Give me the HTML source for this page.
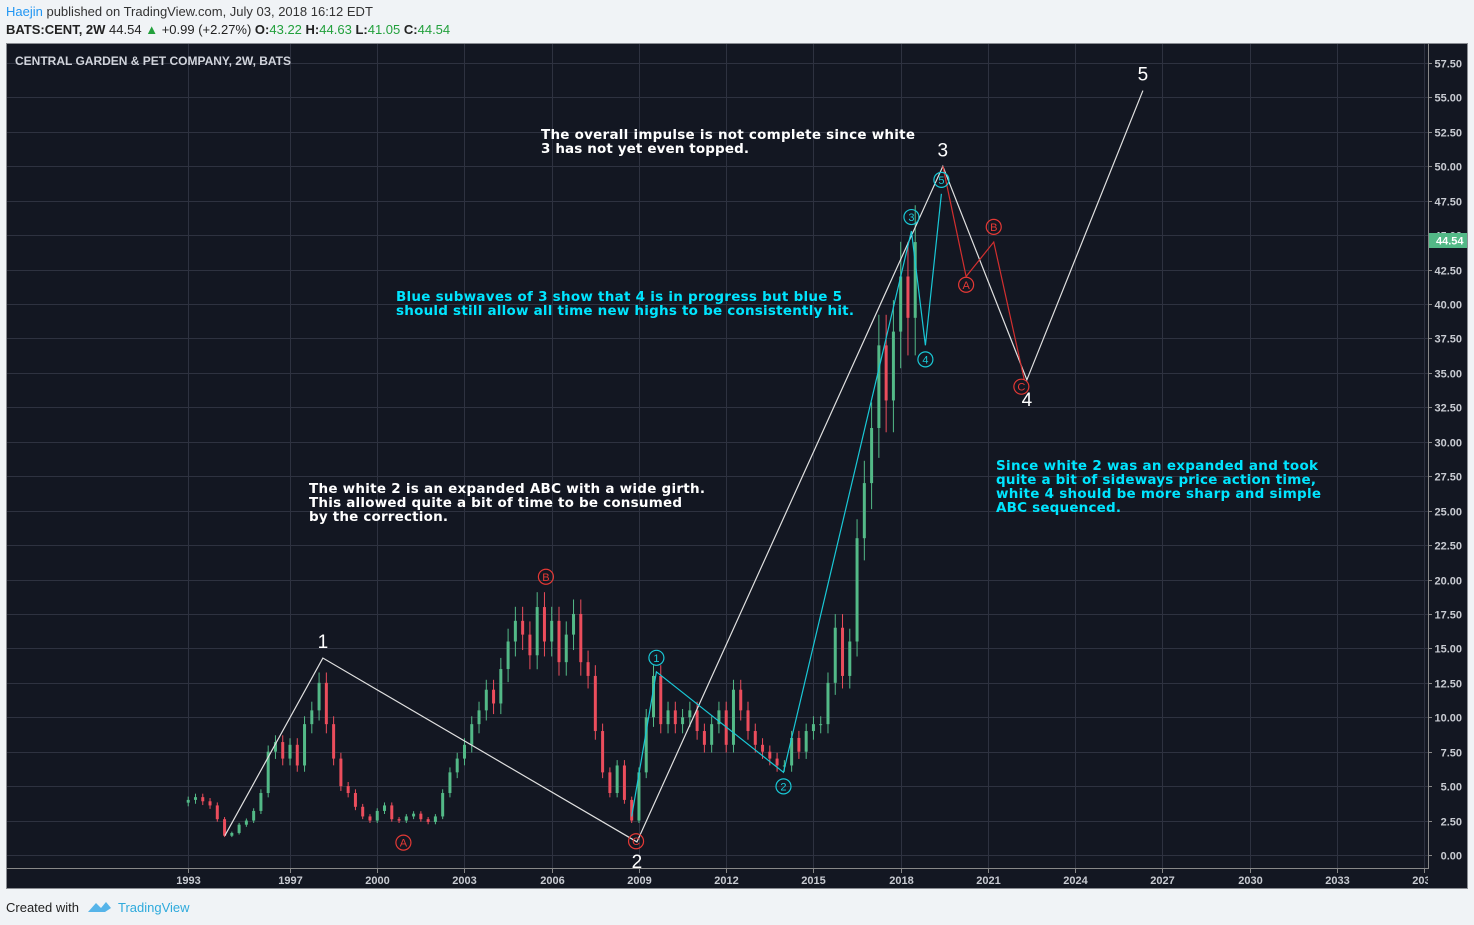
<!DOCTYPE html>
<html><head><meta charset="utf-8">
<style>
html,body{margin:0;padding:0;background:#f0f3f6;width:1474px;height:925px;overflow:hidden}
svg{display:block}
text{font-family:"Liberation Sans","DejaVu Sans",sans-serif}
.ann{font-family:"DejaVu Sans",sans-serif;font-weight:bold;font-size:13.5px}
</style></head>
<body>
<svg id="chart" width="1474" height="925" viewBox="0 0 1474 925">
  <defs><clipPath id="plotclip"><rect x="7" y="44" width="1421" height="845"/></clipPath></defs>
  <g>
    <text x="6" y="16" font-size="13" fill="#333"><tspan fill="#2196f3">Haejin</tspan> published on TradingView.com, July 03, 2018 16:12 EDT</text>
    <text x="6" y="34" font-size="13" fill="#222"><tspan font-weight="bold">BATS:CENT, 2W</tspan> 44.54 <tspan fill="#22a03c">▲</tspan> +0.99 (+2.27%) <tspan font-weight="bold">O:</tspan><tspan fill="#22a03c">43.22</tspan> <tspan font-weight="bold">H:</tspan><tspan fill="#22a03c">44.63</tspan> <tspan font-weight="bold">L:</tspan><tspan fill="#22a03c">41.05</tspan> <tspan font-weight="bold">C:</tspan><tspan fill="#22a03c">44.54</tspan></text>
  </g>
  <rect x="6.5" y="43.5" width="1461" height="845" fill="#131722" stroke="#8a8d93"/>
  <g id="grid"></g>
  <line x1="1428.5" y1="44" x2="1428.5" y2="869" stroke="#888"/>
  <line x1="7" y1="868.5" x2="1428" y2="868.5" stroke="#888"/>
  <g id="yaxis"></g>
  <g id="xaxis" clip-path="url(#plotclip)"></g>
  <text x="15" y="65" font-size="12" fill="#d1d4dc" font-weight="bold">CENTRAL GARDEN &amp; PET COMPANY, 2W, BATS</text>
  <g id="candles"></g>
  <g id="waves"></g>
  <g>
    <text class="ann" fill="#fff"><tspan x="541" y="139" textLength="374">The overall impulse is not complete since white</tspan><tspan x="541" y="153" textLength="208">3 has not yet even topped.</tspan></text>
    <text class="ann" fill="#00e5ff"><tspan x="396" y="301" textLength="446">Blue subwaves of 3 show that 4 is in progress but blue 5</tspan><tspan x="396" y="315" textLength="458">should still allow all time new highs to be consistently hit.</tspan></text>
    <text class="ann" fill="#fff"><tspan x="309" y="493" textLength="396">The white 2 is an expanded ABC with a wide girth.</tspan><tspan x="309" y="507" textLength="373">This allowed quite a bit of time to be consumed</tspan><tspan x="309" y="521" textLength="139">by the correction.</tspan></text>
    <text class="ann" fill="#00e5ff"><tspan x="996" y="470" textLength="322">Since white 2 was an expanded and took</tspan><tspan x="996" y="484" textLength="320">quite a bit of sideways price action time,</tspan><tspan x="996" y="498" textLength="325">white 4 should be more sharp and simple</tspan><tspan x="996" y="512" textLength="125">ABC sequenced.</tspan></text>
  </g>
  <rect x="1429" y="233" width="38" height="15" fill="#53b987"/>
  <text x="1436" y="244.5" font-size="11" font-weight="bold" fill="#fff">44.54</text>
  <g>
    <text x="6" y="912" font-size="13" fill="#222">Created with</text>
    <path d="M88 912 L96 903 L101 908 L106 902 L111 908 L105 912 Z" fill="#56b4e9"/>
    <text x="118" y="912" font-size="13" fill="#2eaadc">TradingView</text>
  </g>
</svg>
<script>
// ---- data ----
const startYear = 1993.5;
const stepYears = 0.25;
const closes = [4.0,4.2,3.9,3.6,2.6,1.4,1.6,2.2,2.5,3.2,4.5,7.5,8.2,7.0,8.0,6.5,9.5,10.5,12.5,9.5,7.0,5.0,4.5,3.5,2.8,2.5,3.2,3.6,2.6,2.5,2.8,3.0,2.6,2.4,2.8,4.5,6.0,7.0,8.0,9.5,10.5,12.0,11.0,13.5,15.5,17.0,16.0,14.5,18.0,15.5,17.0,14.0,16.0,17.5,14.0,13.0,9.0,6.0,4.5,6.5,4.0,2.5,6.0,10.0,13.0,9.5,10.5,9.5,10.0,10.5,9.0,8.0,9.5,10.5,8.0,12.0,10.5,9.0,8.0,7.5,7.0,6.5,6.5,8.5,7.5,9.0,9.5,9.5,12.5,16.5,13.0,15.5,23.0,27.0,31.0,37.0,33.0,38.0,42.0,39.0,44.5];
const firstOpen = 3.8;
const priceTicks = [0,2.5,5,7.5,10,12.5,15,17.5,20,22.5,25,27.5,30,32.5,35,37.5,40,42.5,45,47.5,50,52.5,55,57.5];
const yearTicks = [1993,1997,2000,2003,2006,2009,2012,2015,2018,2021,2024,2027,2030,2033,2036];
const yearTickLabels = ["1993","1997","2000","2003","2006","2009","2012","2015","2018","2021","2024","2027","2030","2033","2036"];
const whiteWave = [[1994.76,1.4],[1998.13,14.3],[2008.93,0.95],[2019.45,50.0],[2022.34,34.5],[2026.33,55.5]];
const whiteLabels = ["","1","2","3","4","5"];
const blueWave = [[2008.75,2.8],[2009.6,13.3],[2013.97,6.0],[2018.37,45.3],[2018.85,37.0],[2019.4,48.0]];
const blueLabels = ["","1","2","3","4","5"];
const redWave = [[2019.45,50.0],[2020.25,42.0],[2021.2,44.5],[2022.25,34.5]];
const redLabels = [["A",2000.9,0.9],["B",2005.8,20.2],["C",2008.9,1.0],["A",2020.25,41.4],["B",2021.2,45.6],["C",2022.15,34.0]];

function xOf(t){return 290 + (t-1997)*29.08;}
function xTick(y){ return y===1993 ? 188 : xOf(y); }
function yOf(v){return 855 - v*13.774;}
const NS="http://www.w3.org/2000/svg";
function mk(tag,attrs,parent){const e=document.createElementNS(NS,tag);for(const k in attrs)e.setAttribute(k,attrs[k]);parent.appendChild(e);return e;}

const grid=document.getElementById('grid'), yax=document.getElementById('yaxis'), xax=document.getElementById('xaxis');
priceTicks.forEach(v=>{
  const y=Math.round(yOf(v))+0.5;
  const gl=mk('line',{x1:7,x2:1428,y1:y,y2:y,stroke:'#2e3240'},grid);
  
  
  const tk=mk('line',{x1:1428,x2:1432,y1:y,y2:y,stroke:'#888'},yax);
  
  
  const t=mk('text',{x:1462,y:y+4,'font-size':11,'font-weight':'bold',fill:'#c8cbd2','text-anchor':'end'},yax);
  t.textContent=v.toFixed(2);
  
  
});
yearTicks.forEach((yr,i)=>{
  const x=Math.round(xTick(yr))+0.5;
  const gl=mk('line',{x1:x,x2:x,y1:44,y2:868,stroke:'#2e3240'},grid);
  
  
  const tk=mk('line',{x1:x,x2:x,y1:869,y2:873,stroke:'#888'},xax);
  
  
  const t=mk('text',{x:x,y:884,'font-size':11,'font-weight':'bold',fill:'#c8cbd2','text-anchor':'middle'},xax);
  t.textContent=yearTickLabels[i];
  
  
});

const cg=document.getElementById('candles');
closes.forEach((c,i)=>{
  const o = i===0 ? firstOpen : closes[i-1];
  const t = startYear + i*stepYears;
  const x = xOf(t);
  const up = c>=o;
  const col = up ? '#53b987' : '#eb4d5c';
  const hi = Math.max(o,c)*1.06, lo = Math.min(o,c)*0.93;
  const w=mk('line',{x1:x,x2:x,y1:yOf(hi),y2:yOf(lo),stroke:col,'stroke-width':1},cg);
  
  
  const top=yOf(Math.max(o,c)), bot=yOf(Math.min(o,c));
  const b=mk('rect',{x:x-1.5,y:top,width:3,height:Math.max(1,bot-top),fill:col},cg);
  
  
});

const wg=document.getElementById('waves');
function poly(pts,color,name){
  const p=mk('polyline',{points:pts.map(p=>xOf(p[0])+','+yOf(p[1])).join(' '),fill:'none',stroke:color,'stroke-width':1.2},wg);
  
  
}
poly(whiteWave,'#e0e0e0','white-wave-line');
poly(blueWave,'#19c8d6','blue-wave-line');
poly(redWave,'#d32f2f','red-wave-line');
whiteWave.forEach((p,i)=>{
  if(!whiteLabels[i])return;
  const above = (i%2===1);
  const t=mk('text',{x:xOf(p[0]),y:above?yOf(p[1])-10:yOf(p[1])+26,'font-size':19,fill:'#fff','text-anchor':'middle'},wg);
  t.textContent=whiteLabels[i];
  
  
});
function circLabel(cx,cy,txt,color,name){
  const c=mk('circle',{cx:cx,cy:cy,r:7.5,fill:'none',stroke:color,'stroke-width':1.2},wg);
  
  
  const t=mk('text',{x:cx,y:cy+4,'font-size':11,fill:color,'text-anchor':'middle'},wg);
  t.textContent=txt;
  
  
}
blueWave.forEach((p,i)=>{
  if(!blueLabels[i])return;
  const above=(i%2===1);
  circLabel(xOf(p[0]),above?yOf(p[1])-14:yOf(p[1])+14,blueLabels[i],'#19c8d6','blue-wave-label');
});
redLabels.forEach(r=>{ circLabel(xOf(r[1]),yOf(r[2]),r[0],'#e53935','red-wave-label'); });
</script>
</body></html>
